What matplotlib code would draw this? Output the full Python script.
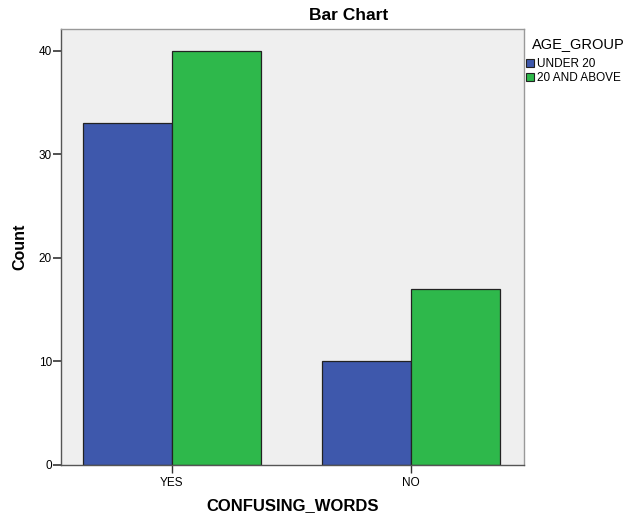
import matplotlib.pyplot as plt
import numpy as np
from matplotlib.patches import Patch

plt.rcParams['font.family'] = ['Liberation Sans', 'DejaVu Sans']

categories = ['YES', 'NO']
groups = ['UNDER 20', '20 AND ABOVE']
under_20 = [33, 10]
above_20 = [40, 17]
colors = ['#3E58AC', '#2EB84B']

fig = plt.figure(figsize=(6.3, 5.15), dpi=100)
ax = fig.add_axes([0.0968, 0.0971, 0.735, 0.8466])
ax.set_facecolor('#EFEFEF')

x = np.arange(len(categories))
w = 0.372
ax.bar(x - w / 2, under_20, w, color=colors[0], edgecolor='#222222', linewidth=0.9)
ax.bar(x + w / 2, above_20, w, color=colors[1], edgecolor='#222222', linewidth=0.9)

ax.set_xlim(-0.4644, 1.473)
ax.set_ylim(0, 42.1)
ax.set_xticks(x)
ax.set_xticklabels(categories, fontsize=8.5)
ax.set_yticks([0, 10, 20, 30, 40])
ax.tick_params(axis='y', labelsize=8.5, length=6, width=1.2, pad=0.5, color='#333333')
ax.tick_params(axis='x', length=6, width=1, pad=2.5, color='#333333')

for s in ax.spines.values():
    s.set_color('#999999')
    s.set_linewidth(1.0)
ax.spines['left'].set_color('#555555')
ax.spines['bottom'].set_color('#555555')

ax.set_xlabel('CONFUSING_WORDS', fontsize=12, fontweight='bold', va='center')
ax.xaxis.set_label_coords(0.5, -0.094)
ax.set_ylabel('Count', fontsize=11.5, fontweight='bold', va='center')
ax.yaxis.set_label_coords(-0.0886, 0.5)

# title is centred over the chart plus legend, like the original
fig.text(349 / 630, 1 - 16 / 515, 'Bar Chart', fontsize=12.5, fontweight='bold',
         ha='center', va='center')

fig.text(532 / 630, 1 - 44 / 515, 'AGE_GROUP', fontsize=10.5, ha='left', va='center')
handles = [Patch(facecolor=c, edgecolor='#222222', linewidth=0.8) for c in colors]
fig.legend(handles, groups, loc='upper left', bbox_to_anchor=(526 / 630, 1 - 58 / 515),
           frameon=False, fontsize=8.5, handlelength=0.7, handleheight=0.7,
           handletextpad=0.25, labelspacing=0.15, borderaxespad=0, borderpad=0)

fig.savefig('out.png', dpi=100)
